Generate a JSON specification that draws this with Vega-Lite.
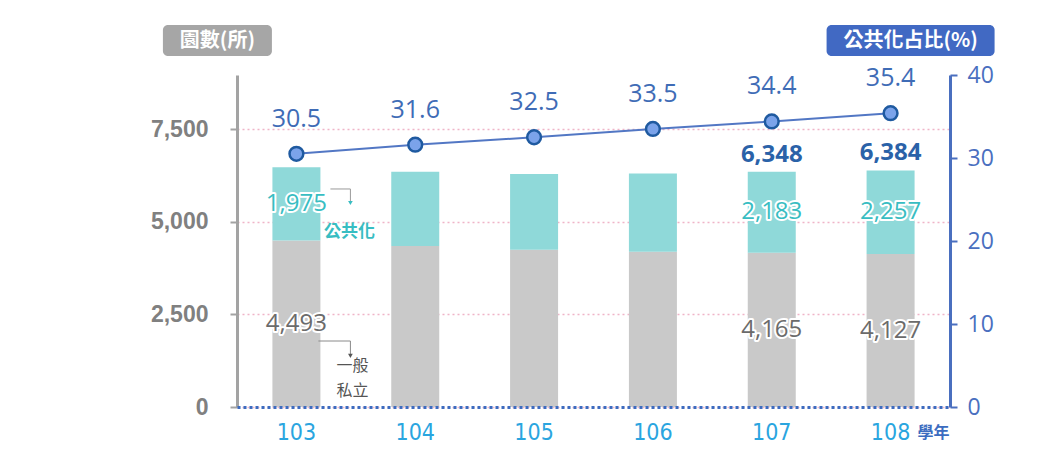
{
  "$schema": "https://vega.github.io/schema/vega-lite/v6.json",
  "width": 713,
  "height": 332,
  "autosize": {"type": "none"},
  "padding": {"left": 237, "top": 75, "right": 106, "bottom": 42},
  "background": "white",
  "config": {"view": {"stroke": null}, "font": "Open Sans"},
  "datasets": {
    "counts": [
      {"year": "103", "type": "一般私立", "count": 4493},
      {"year": "103", "type": "公共化", "count": 1975},
      {"year": "104", "type": "一般私立", "count": 4345},
      {"year": "104", "type": "公共化", "count": 2006},
      {"year": "105", "type": "一般私立", "count": 4245},
      {"year": "105", "type": "公共化", "count": 2044},
      {"year": "106", "type": "一般私立", "count": 4190},
      {"year": "106", "type": "公共化", "count": 2110},
      {"year": "107", "type": "一般私立", "count": 4165},
      {"year": "107", "type": "公共化", "count": 2183},
      {"year": "108", "type": "一般私立", "count": 4127},
      {"year": "108", "type": "公共化", "count": 2257}
    ],
    "trend": [
      {"year": "103", "total": 6468, "ratio": 30.5},
      {"year": "104", "total": 6351, "ratio": 31.6},
      {"year": "105", "total": 6289, "ratio": 32.5},
      {"year": "106", "total": 6300, "ratio": 33.5},
      {"year": "107", "total": 6348, "ratio": 34.4},
      {"year": "108", "total": 6384, "ratio": 35.4}
    ]
  },
  "layer": [
    {
      "layer": [
        {
          "data": {"name": "counts"},
          "mark": {"type": "bar", "width": 48},
          "encoding": {
            "x": {
              "field": "year", "type": "ordinal",
              "scale": {"type": "band", "paddingInner": 0, "paddingOuter": 0},
              "axis": {
                "orient": "bottom", "zindex": 1,
                "domainColor": "#3d6cc0", "domainDash": [3, 3], "domainWidth": 3,
                "ticks": false, "labelAngle": 0,
                "labelColor": "#2aa5df", "labelFontSize": 23, "labelFont": "DejaVu Sans Condensed, DejaVu Sans, sans-serif",
                "labelPadding": 14,
                "title": "學年", "titleX": 696, "titleY": 25, "titleAlign": "center", "titleBaseline": "middle",
                "titleFontSize": 16, "titleColor": "#3c6cc0", "titleFontWeight": "bold", "titleFont": "Noto Sans CJK TC"
              }
            },
            "y": {
              "field": "count", "type": "quantitative", "stack": "zero", "title": null,
              "scale": {"domain": [0, 8960], "nice": false},
              "axis": {
                "orient": "left", "values": [0, 2500, 5000, 7500],
                "labelExpr": "format(datum.value, ',')",
                "labelFont": "Liberation Sans", "labelFontSize": 23, "labelFontWeight": "bold", "labelColor": "#808080",
                "labelPadding": 22,
                "domainColor": "#a3a3a3", "domainWidth": 3,
                "tickColor": "#a3a3a3", "tickSize": 7, "tickWidth": 2,
                "grid": true, "gridColor": "#f0b4c8", "gridDash": [2, 3], "gridWidth": 1.5
              }
            },
            "fill": {
              "field": "type", "type": "nominal", "legend": null,
              "scale": {"domain": ["一般私立", "公共化"], "range": ["#c9c9c9", "#8fd9d9"]}
            },
            "order": {"field": "type", "type": "nominal", "sort": "ascending"}
          }
        },
        {
          "data": {"name": "counts"},
          "transform": [{"filter": {"field": "year", "oneOf": ["103", "107", "108"]}}],
          "mark": {"type": "text", "fontSize": 24, "fill": "white", "stroke": "white", "strokeWidth": 4, "strokeJoin": "round", "baseline": "middle"},
          "encoding": {
            "x": {"field": "year", "type": "ordinal", "scale": {"type": "band"}},
            "y": {"field": "count", "type": "quantitative", "stack": "zero", "bandPosition": 0.5, "scale": {"domain": [0, 8960], "nice": false}},
            "detail": {"field": "type", "type": "nominal"},
            "order": {"field": "type", "type": "nominal", "sort": "ascending"},
            "text": {"field": "count", "type": "quantitative", "format": ","}
          }
        },
        {
          "data": {"name": "counts"},
          "transform": [{"filter": {"field": "year", "oneOf": ["103", "107", "108"]}}],
          "mark": {"type": "text", "fontSize": 24, "baseline": "middle"},
          "encoding": {
            "x": {"field": "year", "type": "ordinal", "scale": {"type": "band"}},
            "y": {"field": "count", "type": "quantitative", "stack": "zero", "bandPosition": 0.5, "scale": {"domain": [0, 8960], "nice": false}},
            "color": {
              "field": "type", "type": "nominal", "legend": null,
              "scale": {"domain": ["一般私立", "公共化"], "range": ["#6b6b6b", "#38bdc2"]}
            },
            "order": {"field": "type", "type": "nominal", "sort": "ascending"},
            "text": {"field": "count", "type": "quantitative", "format": ","}
          }
        },
        {
          "data": {"name": "trend"},
          "transform": [{"filter": {"field": "year", "oneOf": ["107", "108"]}}],
          "mark": {"type": "text", "fontSize": 24, "fontWeight": "bold", "fill": "#2a62a8", "dy": -17, "baseline": "middle"},
          "encoding": {
            "x": {"field": "year", "type": "ordinal", "scale": {"type": "band"}},
            "y": {"field": "total", "type": "quantitative", "scale": {"domain": [0, 8960], "nice": false}},
            "text": {"field": "total", "type": "quantitative", "format": ","}
          }
        },
        {
          "data": {"values": [{}]},
          "mark": {"type": "bar", "width": 109, "xOffset": -79, "cornerRadius": 5, "fill": "#a6a6a6"},
          "encoding": {
            "x": {"datum": "103", "type": "ordinal", "scale": {"type": "band"}},
            "y": {"datum": 9473, "type": "quantitative", "scale": {"domain": [0, 8960], "nice": false}},
            "y2": {"datum": 10310}
          }
        },
        {
          "data": {"values": [{}]},
          "mark": {"type": "text", "xOffset": -79, "fill": "white", "fontSize": 20, "fontWeight": "bold", "font": "Noto Sans CJK TC", "baseline": "middle", "text": "園數(所)"},
          "encoding": {
            "x": {"datum": "103", "type": "ordinal", "scale": {"type": "band"}},
            "y": {"datum": 9878, "type": "quantitative", "scale": {"domain": [0, 8960], "nice": false}}
          }
        },
        {
          "data": {"values": [{}]},
          "mark": {"type": "bar", "width": 168, "xOffset": 20, "cornerRadius": 5, "fill": "#4169c3"},
          "encoding": {
            "x": {"datum": "108", "type": "ordinal", "scale": {"type": "band"}},
            "y": {"datum": 9473, "type": "quantitative", "scale": {"domain": [0, 8960], "nice": false}},
            "y2": {"datum": 10310}
          }
        },
        {
          "data": {"values": [{}]},
          "mark": {"type": "text", "xOffset": 20, "fill": "white", "fontSize": 20, "fontWeight": "bold", "font": "Noto Sans CJK TC", "baseline": "middle", "text": "公共化占比(%)"},
          "encoding": {
            "x": {"datum": "108", "type": "ordinal", "scale": {"type": "band"}},
            "y": {"datum": 9878, "type": "quantitative", "scale": {"domain": [0, 8960], "nice": false}}
          }
        },
        {
          "data": {"values": [{}]},
          "mark": {"type": "rule", "xOffset": 34, "x2Offset": 54, "stroke": "#9a9a9a", "strokeWidth": 1},
          "encoding": {
            "x": {"datum": "103", "type": "ordinal", "scale": {"type": "band"}},
            "x2": {"datum": "103"},
            "y": {"datum": 5884, "type": "quantitative", "scale": {"domain": [0, 8960], "nice": false}}
          }
        },
        {
          "data": {"values": [{}]},
          "mark": {"type": "rule", "xOffset": 54, "stroke": "#9a9a9a", "strokeWidth": 1},
          "encoding": {
            "x": {"datum": "103", "type": "ordinal", "scale": {"type": "band"}},
            "y": {"datum": 5884, "type": "quantitative", "scale": {"domain": [0, 8960], "nice": false}},
            "y2": {"datum": 5560}
          }
        },
        {
          "data": {"values": [{}]},
          "mark": {"type": "point", "shape": "triangle-down", "size": 22, "filled": true, "opacity": 1, "fill": "#38bdc2", "xOffset": 54},
          "encoding": {
            "x": {"datum": "103", "type": "ordinal", "scale": {"type": "band"}},
            "y": {"datum": 5506, "type": "quantitative", "scale": {"domain": [0, 8960], "nice": false}}
          }
        },
        {
          "data": {"values": [{}]},
          "mark": {"type": "text", "xOffset": 53, "fill": "#38bdc2", "fontSize": 17, "fontWeight": "bold", "font": "Noto Sans CJK TC", "baseline": "middle", "text": "公共化"},
          "encoding": {
            "x": {"datum": "103", "type": "ordinal", "scale": {"type": "band"}},
            "y": {"datum": 4723, "type": "quantitative", "scale": {"domain": [0, 8960], "nice": false}}
          }
        },
        {
          "data": {"values": [{}]},
          "mark": {"type": "rule", "xOffset": 22, "x2Offset": 54, "stroke": "#8a8a8a", "strokeWidth": 1},
          "encoding": {
            "x": {"datum": "103", "type": "ordinal", "scale": {"type": "band"}},
            "x2": {"datum": "103"},
            "y": {"datum": 1781, "type": "quantitative", "scale": {"domain": [0, 8960], "nice": false}}
          }
        },
        {
          "data": {"values": [{}]},
          "mark": {"type": "rule", "xOffset": 54, "stroke": "#8a8a8a", "strokeWidth": 1},
          "encoding": {
            "x": {"datum": "103", "type": "ordinal", "scale": {"type": "band"}},
            "y": {"datum": 1781, "type": "quantitative", "scale": {"domain": [0, 8960], "nice": false}},
            "y2": {"datum": 1420}
          }
        },
        {
          "data": {"values": [{}]},
          "mark": {"type": "point", "shape": "triangle-down", "size": 22, "filled": true, "opacity": 1, "fill": "#555555", "xOffset": 54},
          "encoding": {
            "x": {"datum": "103", "type": "ordinal", "scale": {"type": "band"}},
            "y": {"datum": 1380, "type": "quantitative", "scale": {"domain": [0, 8960], "nice": false}}
          }
        },
        {
          "data": {"values": [{}]},
          "mark": {"type": "text", "xOffset": 56, "fill": "#555555", "fontSize": 16, "font": "Noto Sans CJK TC", "baseline": "middle", "text": "一般"},
          "encoding": {
            "x": {"datum": "103", "type": "ordinal", "scale": {"type": "band"}},
            "y": {"datum": 1100, "type": "quantitative", "scale": {"domain": [0, 8960], "nice": false}}
          }
        },
        {
          "data": {"values": [{}]},
          "mark": {"type": "text", "xOffset": 56, "fill": "#555555", "fontSize": 16, "font": "Noto Sans CJK TC", "baseline": "middle", "text": "私立"},
          "encoding": {
            "x": {"datum": "103", "type": "ordinal", "scale": {"type": "band"}},
            "y": {"datum": 420, "type": "quantitative", "scale": {"domain": [0, 8960], "nice": false}}
          }
        }
      ]
    },
    {
      "data": {"name": "trend"},
      "layer": [
        {
          "mark": {"type": "line", "stroke": "#5277c4", "strokeWidth": 2},
          "encoding": {
            "x": {"field": "year", "type": "ordinal", "scale": {"type": "band"}},
            "y": {
              "field": "ratio", "type": "quantitative", "title": null,
              "scale": {"domain": [0, 40], "nice": false},
              "axis": {
                "orient": "right", "values": [0, 10, 20, 30, 40],
                "domainColor": "#4a6fbf", "domainWidth": 3,
                "tickColor": "#4a6fbf", "tickSize": 7, "tickWidth": 2,
                "labelColor": "#4a6fbf", "labelFontSize": 23, "labelFont": "Open Sans", "labelPadding": 10,
                "grid": false
              }
            }
          }
        },
        {
          "mark": {"type": "point", "filled": true, "opacity": 1, "size": 190, "fill": "#7ba3ea", "stroke": "#1f5aa0", "strokeWidth": 2.5},
          "encoding": {
            "x": {"field": "year", "type": "ordinal", "scale": {"type": "band"}},
            "y": {"field": "ratio", "type": "quantitative", "scale": {"domain": [0, 40], "nice": false}}
          }
        },
        {
          "mark": {"type": "text", "fontSize": 25, "fill": "#3f6cb6", "dy": -35, "baseline": "middle"},
          "encoding": {
            "x": {"field": "year", "type": "ordinal", "scale": {"type": "band"}},
            "y": {"field": "ratio", "type": "quantitative", "scale": {"domain": [0, 40], "nice": false}},
            "text": {"field": "ratio", "type": "quantitative", "format": ".1f"}
          }
        }
      ]
    }
  ],
  "resolve": {"scale": {"y": "independent"}}
}
